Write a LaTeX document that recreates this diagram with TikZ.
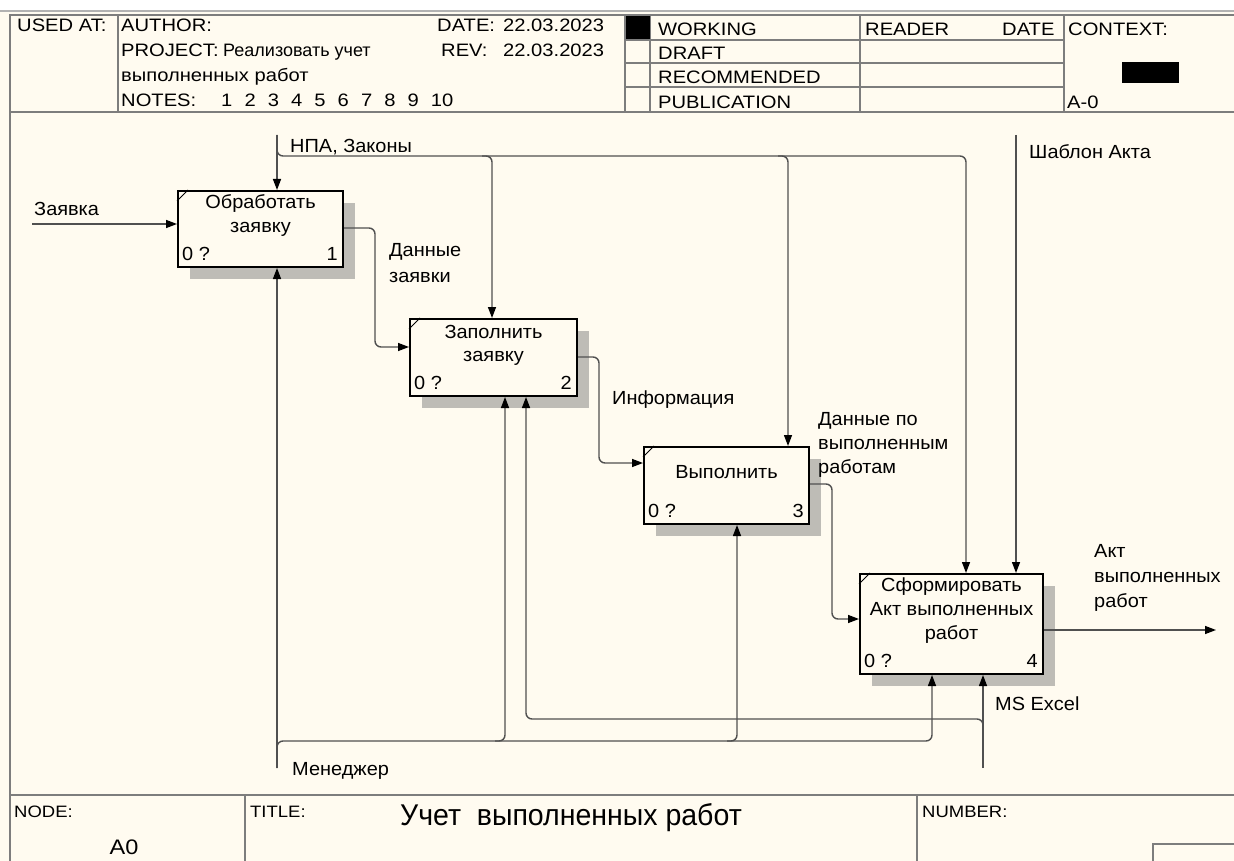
\documentclass[tikz,border=0pt]{standalone}
\usepackage{fontspec}
\setmainfont{Liberation Sans}
\newfontfamily\hdrfont[FakeStretch=1.12]{Liberation Sans}
\newfontfamily\hdrnarrow{Liberation Sans}
\newfontfamily\txtfont[FakeStretch=1.05]{Liberation Sans}
\newfontfamily\ttlfont[FakeStretch=0.95]{Liberation Sans}
\usetikzlibrary{arrows.meta,calc,shadows}
\definecolor{paper}{RGB}{255,251,240}
\definecolor{rule}{RGB}{125,125,125}
\definecolor{wirec}{RGB}{80,80,80}
\definecolor{shade}{RGB}{190,188,182}

\begin{document}
\begin{tikzpicture}[x=1pt,y=-1pt,
  framerule/.style={draw=rule, line width=2pt},
  hdr/.style={font=\hdrfont\fontsize{18}{22}\selectfont, inner sep=0pt, anchor=base west},
  ftr/.style={font=\hdrfont\fontsize{16.5}{20}\selectfont, inner sep=0pt, anchor=base west},
  lbl/.style={font=\txtfont\fontsize{19}{25}\selectfont, inner sep=0pt, anchor=base west},
  func/.style={draw=black, line width=2pt, fill=paper, inner sep=0pt, anchor=north west,
    drop shadow={shadow xshift=12pt, shadow yshift=-12pt, opacity=1, fill=shade}},
  ftxt/.style={font=\txtfont\fontsize{19}{24}\selectfont, inner sep=0pt, anchor=base},
  cnum/.style={font=\txtfont\fontsize{19}{24}\selectfont, inner sep=0pt},
  conn/.style={draw=wirec, line width=1.4pt, rounded corners=6pt},
  arr/.style={conn, -{Triangle[length=11pt, width=8pt, color=black]}},
]
\useasboundingbox (0,0) rectangle (1234,861);
\fill[paper] (0,0) rectangle (1234,861);
\fill[white] (0,0) rectangle (1234,11);
\draw[gray!60, line width=1.2pt] (0,11) -- (1234,11);

% ---- outer frame and header form ----
\draw[framerule] (1234,15) -- (10,15) -- (10,861);
\draw[framerule] (10,112) -- (1234,112);
\draw[framerule] (10,795) -- (1234,795);
\foreach \xx in {118,625,650,860,1064}
  \draw[framerule] (\xx,15) -- (\xx,112);
\foreach \yy in {40,63,87}
  \draw[framerule] (625,\yy) -- (1064,\yy);
\fill[black] (626,16) rectangle (650,39);
\fill[black] (1122,62) rectangle (1179,83);

\node[hdr] (usedat) at (17,32) {USED AT:};
\node[hdr] (author) at (121,32) {AUTHOR:};
\node[hdr] (project) at (121,57) {PROJECT:};
\node[hdr, font=\hdrnarrow\fontsize{18}{22}\selectfont] (projname) at (223,57) {Реализовать учет};
\node[hdr] (projname2) at (121,82) {выполненных работ};
\node[hdr] (notes) at (121,107) {NOTES:};
\foreach \n [count=\i from 0] in {1,2,3,4,5,6,7,8,9,10}
  \node[hdr] (note\n) at (221+23.3*\i,107) {\n};
\node[hdr] (datek) at (437,32) {DATE:};
\node[hdr] (datev) at (503,32) {22.03.2023};
\node[hdr] (revk) at (441,57) {REV:};
\node[hdr] (revv) at (503,57) {22.03.2023};
\node[hdr] (working) at (658,36) {WORKING};
\node[hdr] (draft) at (658,60) {DRAFT};
\node[hdr] (recom) at (658,84) {RECOMMENDED};
\node[hdr] (publ) at (658,109) {PUBLICATION};
\node[hdr] (reader) at (865,36) {READER};
\node[hdr] (rdate) at (1002,36) {DATE};
\node[hdr] (context) at (1068,36) {CONTEXT:};
\node[hdr] (ctxnode) at (1067,109) {A-0};

% ---- footer ----
\foreach \xx in {245,917}
  \draw[framerule] (\xx,795) -- (\xx,861);
\draw[framerule] (1234,844) -- (1153,844) -- (1153,861);
\node[ftr] (nodek) at (14,817) {NODE:};
\node[ftr] (titlek) at (250,817) {TITLE:};
\node[ftr] (numk) at (922,817) {NUMBER:};
\node[font=\hdrfont\fontsize{21}{24}\selectfont, inner sep=0pt, anchor=base] (nodev) at (124,854) {A0};
\node[font=\ttlfont\fontsize{30}{34}\selectfont, inner sep=0pt, anchor=base west] (title) at (400,825) {Учет\ \ выполненных работ};

% ---- function boxes ----
\node[func, minimum width=165pt, minimum height=76pt] (b1) at (177,190) {};
\node[func, minimum width=167pt, minimum height=77pt] (b2) at (409,318) {};
\node[func, minimum width=165pt, minimum height=77pt] (b3) at (643,446) {};
\node[func, minimum width=183pt, minimum height=100pt] (b4) at (859,573) {};

\foreach \b/\k in {b1/1,b2/2,b3/3,b4/4}{
  \draw[black, line width=1pt] ($(\b.north west)+(0,11)$) -- ($(\b.north west)+(11,0)$);
  \node[cnum, anchor=base west] at ($(\b.south west)+(5,-8)$) {0 ?};
  \node[cnum, anchor=base east] at ($(\b.south east)+(-6,-8)$) {\k};
}
\node[ftxt] (t1a) at ($(b1.north)+(0,19)$) {Обработать};
\node[ftxt] (t1b) at ($(b1.north)+(0,43)$) {заявку};
\node[ftxt] (t2a) at ($(b2.north)+(0,20)$) {Заполнить};
\node[ftxt] (t2b) at ($(b2.north)+(0,43)$) {заявку};
\node[ftxt] (t3a) at ($(b3.north)+(0,32)$) {Выполнить};
\node[ftxt] (t4a) at ($(b4.north)+(0,18)$) {Сформировать};
\node[ftxt] (t4b) at ($(b4.north)+(0,42)$) {Акт выполненных};
\node[ftxt] (t4c) at ($(b4.north)+(0,66)$) {работ};

% ---- inputs ----
\coordinate (reqSrc) at (32,224);
\draw[arr] (reqSrc) -- (reqSrc -| b1.west);
\node[lbl] (reqL) at (34,215) {Заявка};

% ---- controls ----
\coordinate (npaSrc) at (277,135);
\coordinate (npaBus) at (966,156);
\coordinate (npa2) at (492,156);
\coordinate (npa3) at (788,156);
\draw[arr] (npaSrc) -- (npaSrc |- b1.north);
\draw[arr] (npaSrc) |- (npaBus) -- (npaBus |- b4.north);
\draw[arr] ($(npa2)+(-10,0)$) -- (npa2) -- (npa2 |- b2.north);
\draw[arr] ($(npa3)+(-10,0)$) -- (npa3) -- (npa3 |- b3.north);
\node[lbl] (npaL) at (290,153) {НПА, Законы};

\coordinate (tplSrc) at (1016,135);
\draw[arr] (tplSrc) -- (tplSrc |- b4.north);
\node[lbl] (tplL) at (1029,159) {Шаблон Акта};

% ---- outputs between functions ----
\draw[arr] ($(b1.north east)+(0,38)$) -| ($(b2.north west)+(-34,29)$) -- ($(b2.north west)+(0,29)$);
\node[lbl] (d1a) at (389,256) {Данные};
\node[lbl] (d1b) at (389,282) {заявки};

\draw[arr] ($(b2.north east)+(0,39)$) -| ($(b3.north west)+(-44,17)$) -- ($(b3.north west)+(0,17)$);
\node[lbl] (d2) at (612,404) {Информация};

\draw[arr] ($(b3.north east)+(0,38)$) -| ($(b4.north west)+(-27,46)$) -- ($(b4.north west)+(0,46)$);
\node[lbl] (d3a) at (818,425) {Данные по};
\node[lbl] (d3b) at (818,449) {выполненным};
\node[lbl] (d3c) at (818,473) {работам};

\coordinate (actOut) at (1216,630);
\draw[arr] (actOut -| b4.east) -- (actOut);
\node[lbl] (d4a) at (1094,557) {Акт};
\node[lbl] (d4b) at (1094,582) {выполненных};
\node[lbl] (d4c) at (1094,607) {работ};

% ---- mechanisms ----
\coordinate (mgrSrc) at (277,768);
\coordinate (mgrBus) at (932,741);
\coordinate (mgr2) at (505,741);
\coordinate (mgr3) at (737,741);
\draw[arr] (mgrSrc) -- (mgrSrc |- b1.south);
\draw[arr] (mgrSrc) |- (mgrBus) -- (mgrBus |- b4.south);
\draw[arr] ($(mgr2)+(-10,0)$) -- (mgr2) -- (mgr2 |- b2.south);
\draw[arr] ($(mgr3)+(-10,0)$) -- (mgr3) -- (mgr3 |- b3.south);
\node[lbl] (mgrL) at (292,775) {Менеджер};

\coordinate (xlsSrc) at (983,768);
\coordinate (xlsBus) at (526,719);
\draw[arr] (xlsSrc) -- (xlsSrc |- b4.south);
\draw[arr] ($(xlsSrc)+(0,-38)$) |- (xlsBus) -- (xlsBus |- b2.south);
\node[lbl] (xlsL) at (995,710) {MS Excel};
\end{tikzpicture}
\end{document}
